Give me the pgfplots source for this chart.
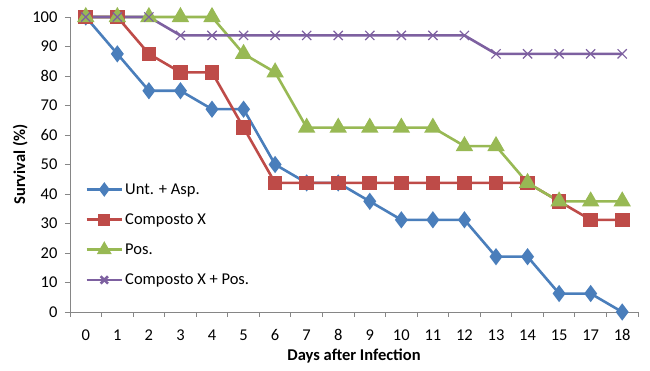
\documentclass[border=0pt]{standalone}
\usepackage{fontspec}
\setmainfont{Carlito}
\usepackage{pgfplots}
\pgfplotsset{compat=1.18}
\definecolor{cblue}{HTML}{4A7EBB}
\definecolor{cred}{HTML}{BE4B48}
\definecolor{cgreen}{HTML}{98B954}
\definecolor{cpurple}{HTML}{7D60A0}
\definecolor{axgray}{HTML}{868686}
\begin{document}
\begin{tikzpicture}
\useasboundingbox (-70pt,-59pt) rectangle (580pt,312pt);
\begin{axis}[
  scale only axis,
  width=568pt, height=295pt,
  xmin=-0.5, xmax=17.5,
  ymin=0, ymax=100,
  axis x line*=bottom, axis y line*=left,
  axis line style={axgray, line width=0.8pt, -},
  xtick={0,...,17},
  xticklabels={0,1,2,3,4,5,6,7,8,9,10,11,12,13,14,15,17,18},
  minor xtick={-0.5,0.5,...,17.5},
  every major x tick/.style={draw=none},
  every minor x tick/.style={axgray, line width=0.8pt},
  minor tick length=5pt,
  ytick={0,10,...,100},
  every major y tick/.style={axgray, line width=0.8pt},
  major tick length=5pt,
  tick align=outside,
  /pgf/number format/assume math mode=true,
  tick label style={font=\fontsize{16.5}{19}\selectfont, black},
  xticklabel style={yshift=-9pt},
  yticklabel style={xshift=-4pt},
  xlabel={\textbf{Days after Infection}},
  ylabel={\textbf{Survival (\%)}},
  label style={font=\fontsize{16.5}{19}\selectfont},
  xlabel style={yshift=-1pt},
  ylabel style={yshift=-2pt},
  legend style={draw=none, fill=none, at={(axis cs:-0.02,45)}, anchor=north west,
    font=\fontsize{16.5}{19}\selectfont, row sep=14pt, inner xsep=0pt},
  legend cell align=left,
  legend image code/.code={\draw[mark repeat=2,mark phase=2, mark options={scale=0.8}] plot coordinates {(0cm,0cm)(0.62cm,0cm)(1.24cm,0cm)};},
  clip=false,
]
\addplot[cblue, line width=2.6pt, mark=diamond*, mark size=6.5pt, mark options={fill=cblue, solid}] coordinates {
(0,100)(1,87.5)(2,75)(3,75)(4,68.75)(5,68.75)(6,50)(7,43.75)(8,43.75)(9,37.5)(10,31.25)(11,31.25)(12,31.25)(13,18.75)(14,18.75)(15,6.25)(16,6.25)(17,0)};
\addlegendentry{Unt. + Asp.}
\addplot[cred, line width=2.6pt, mark=square*, mark size=6pt, mark options={fill=cred, solid}] coordinates {
(0,100)(1,100)(2,87.5)(3,81.25)(4,81.25)(5,62.5)(6,43.75)(7,43.75)(8,43.75)(9,43.75)(10,43.75)(11,43.75)(12,43.75)(13,43.75)(14,43.75)(15,37.5)(16,31.25)(17,31.25)};
\addlegendentry{Composto X}
\addplot[cgreen, line width=2.6pt, mark=triangle*, mark size=7.5pt, mark options={fill=cgreen, solid}] coordinates {
(0,100)(1,100)(2,100)(3,100)(4,100)(5,87.5)(6,81.25)(7,62.5)(8,62.5)(9,62.5)(10,62.5)(11,62.5)(12,56.25)(13,56.25)(14,43.75)(15,37.5)(16,37.5)(17,37.5)};
\addlegendentry{Pos.}
\addplot[cpurple, line width=2.6pt, mark=x, mark size=6.5pt, mark options={line width=1.2pt, solid}] coordinates {
(0,100)(1,100)(2,100)(3,93.75)(4,93.75)(5,93.75)(6,93.75)(7,93.75)(8,93.75)(9,93.75)(10,93.75)(11,93.75)(12,93.75)(13,87.5)(14,87.5)(15,87.5)(16,87.5)(17,87.5)};
\addlegendentry{Composto X + Pos.}
\end{axis}
\end{tikzpicture}
\end{document}
